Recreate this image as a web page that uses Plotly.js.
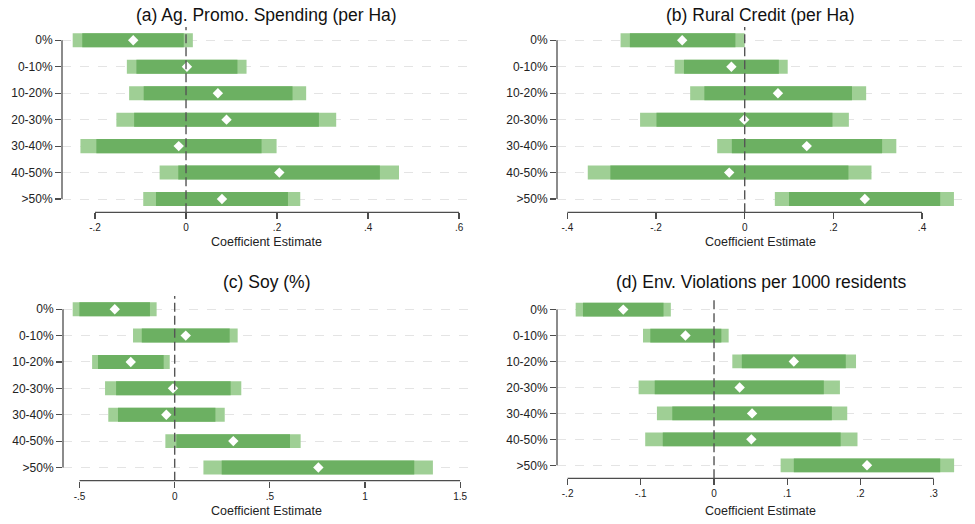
<!DOCTYPE html>
<html>
<head>
<meta charset="utf-8">
<script src="https://cdn.plot.ly/plotly-3.0.1.min.js"></script>
<style>
  html, body { margin: 0; padding: 0; background: #ffffff; }
  #chart { width: 975px; height: 524px; }
</style>
</head>
<body>
<div id="chart"></div>
<script>
// Share-of-area bins (rows of every panel)
const categories = ['0%', '0-10%', '10-20%', '20-30%', '30-40%', '40-50%', '>50%'];

// (a) Ag. Promo. Spending (per Ha)
const agEst  = [-0.116, 0.002, 0.070, 0.089, -0.016, 0.205, 0.079];
const agLo90 = [-0.228, -0.109, -0.093, -0.114, -0.197, -0.017, -0.066];
const agHi90 = [-0.005, 0.113, 0.234, 0.292, 0.166, 0.426, 0.224];
const agLo95 = [-0.249, -0.130, -0.125, -0.153, -0.232, -0.058, -0.094];
const agHi95 = [0.015, 0.133, 0.264, 0.330, 0.199, 0.468, 0.251];

// (b) Rural Credit (per Ha)
const crEst  = [-0.141, -0.030, 0.075, -0.001, 0.140, -0.035, 0.271];
const crLo90 = [-0.259, -0.137, -0.091, -0.199, -0.029, -0.303, 0.100];
const crHi90 = [-0.021, 0.077, 0.242, 0.198, 0.310, 0.234, 0.441];
const crLo95 = [-0.280, -0.158, -0.123, -0.236, -0.062, -0.354, 0.068];
const crHi95 = [0.000, 0.097, 0.274, 0.235, 0.342, 0.286, 0.472];

// (c) Soy (%)
const soyEst  = [-0.315, 0.058, -0.231, -0.009, -0.044, 0.308, 0.755];
const soyLo90 = [-0.501, -0.173, -0.403, -0.308, -0.298, 0.009, 0.247];
const soyHi90 = [-0.130, 0.289, -0.058, 0.294, 0.214, 0.606, 1.259];
const soyLo95 = [-0.536, -0.219, -0.434, -0.366, -0.349, -0.049, 0.151];
const soyHi95 = [-0.095, 0.331, -0.026, 0.350, 0.263, 0.662, 1.357];

// (d) Env. Violations per 1000 residents
const envEst  = [-0.124, -0.039, 0.109, 0.035, 0.052, 0.051, 0.209];
const envLo90 = [-0.179, -0.087, 0.038, -0.081, -0.057, -0.070, 0.109];
const envHi90 = [-0.069, 0.010, 0.180, 0.150, 0.161, 0.173, 0.309];
const envLo95 = [-0.189, -0.097, 0.025, -0.103, -0.078, -0.094, 0.091];
const envHi95 = [-0.059, 0.020, 0.194, 0.172, 0.182, 0.196, 0.328];

// Tick values and labels of each x axis
const agTicks  = [-0.2, 0, 0.2, 0.4, 0.6];
const agLabels = ['-.2', '0', '.2', '.4', '.6'];
const crTicks  = [-0.4, -0.2, 0, 0.2, 0.4];
const crLabels = ['-.4', '-.2', '0', '.2', '.4'];
const soyTicks  = [-0.5, 0, 0.5, 1, 1.5];
const soyLabels = ['-.5', '0', '.5', '1', '1.5'];
const envTicks  = [-0.2, -0.1, 0, 0.1, 0.2, 0.3];
const envLabels = ['-.2', '-.1', '0', '.1', '.2', '.3'];

const panelTitles = ['(a) Ag. Promo. Spending (per Ha)', '(b) Rural Credit (per Ha)',
                     '(c) Soy (%)', '(d) Env. Violations per 1000 residents'];
const xTitle = 'Coefficient Estimate';

const W = 975, H = 524;
const FONT = 'Liberation Sans, Arial, sans-serif';
const C95 = '#9fcf95';
const C90 = '#6cb062';
const AXIS = '#4d4d4d';

// Panel geometry in pixels: plot box left/right/top/bottom and x range
const panels = [
  { est: agEst, lo90: agLo90, hi90: agHi90, lo95: agLo95, hi95: agHi95,
    ticks: agTicks, labels: agLabels, range: [-0.2725, 0.624],
    box: [62, 470, 27, 212.3], titleY: 15, xTitleY: 242 },
  { est: crEst, lo90: crLo90, hi90: crHi90, lo95: crLo95, hi95: crHi95,
    ticks: crTicks, labels: crLabels, range: [-0.4234, 0.4947],
    box: [557, 964, 27, 212.3], titleY: 15, xTitleY: 242 },
  { est: soyEst, lo90: soyLo90, hi90: soyHi90, lo95: soyLo95, hi95: soyHi95,
    ticks: soyTicks, labels: soyLabels, range: [-0.587, 1.552],
    box: [63, 470, 296, 480.7], titleY: 282, xTitleY: 511 },
  { est: envEst, lo90: envLo90, hi90: envHi90, lo95: envLo95, hi95: envHi95,
    ticks: envTicks, labels: envLabels, range: [-0.2145, 0.3415],
    box: [557, 964, 296.6, 478.3], titleY: 282, xTitleY: 511 }
];

const traces = [];
const shapes = [];
const annotations = [];
const layout = {
  width: W, height: H,
  margin: { l: 0, r: 0, t: 0, b: 0 },
  paper_bgcolor: '#ffffff', plot_bgcolor: '#ffffff',
  showlegend: false,
  barmode: 'overlay',
  font: { family: FONT, color: '#222222' }
};

panels.forEach((p, i) => {
  const n = i === 0 ? '' : String(i + 1);
  const xa = 'x' + n, ya = 'y' + n;
  const [l, r, t, b] = p.box;

  // 95% interval (light) then 90% interval (dark) as horizontal bars
  traces.push({
    type: 'bar', orientation: 'h', xaxis: xa, yaxis: ya,
    y: categories, base: p.lo95, x: p.hi95.map((v, k) => v - p.lo95[k]),
    width: 0.53, marker: { color: C95, line: { width: 0 } }, hoverinfo: 'skip'
  });
  traces.push({
    type: 'bar', orientation: 'h', xaxis: xa, yaxis: ya,
    y: categories, base: p.lo90, x: p.hi90.map((v, k) => v - p.lo90[k]),
    width: 0.53, marker: { color: C90, line: { width: 0 } }, hoverinfo: 'skip'
  });
  // Point estimates
  traces.push({
    type: 'scatter', mode: 'markers', xaxis: xa, yaxis: ya,
    y: categories, x: p.est,
    marker: { symbol: 'diamond', size: 8, color: '#ffffff', line: { width: 0 } },
    cliponaxis: false
  });

  layout['xaxis' + n] = {
    domain: [l / W, r / W], anchor: ya, range: p.range,
    showgrid: false, zeroline: false, showline: false,
    tickmode: 'array', tickvals: p.ticks, ticktext: p.labels,
    ticks: 'outside', ticklen: 6, tickwidth: 1.2, tickcolor: AXIS,
    tickfont: { family: FONT, size: 10, color: '#222222' }
  };
  layout['yaxis' + n] = {
    domain: [1 - b / H, 1 - t / H], anchor: xa,
    type: 'category', categoryorder: 'array', categoryarray: categories,
    range: [6.5, -0.5],
    showgrid: true, gridcolor: '#e4e4e4', gridwidth: 1, griddash: 'dash',
    zeroline: false, showline: false,
    ticks: 'outside', ticklen: 6, tickwidth: 1.2, tickcolor: AXIS,
    tickfont: { family: FONT, size: 12, color: '#222222' }
  };

  // Axis lines span the labelled range only
  shapes.push({
    type: 'line', xref: xa, yref: ya + ' domain',
    x0: p.ticks[0], x1: p.ticks[p.ticks.length - 1], y0: 0, y1: 0,
    line: { color: AXIS, width: 1.3 }
  });
  shapes.push({
    type: 'line', xref: xa + ' domain', yref: ya,
    x0: 0, x1: 0, y0: categories[0], y1: categories[categories.length - 1],
    line: { color: AXIS, width: 1.3 }
  });
  // Reference line at zero
  shapes.push({
    type: 'line', xref: xa, yref: ya + ' domain',
    x0: 0, x1: 0, y0: 0, y1: 1, layer: 'above',
    line: { color: '#555555', width: 1.4, dash: '9px,4px' }
  });

  annotations.push({
    text: panelTitles[i], xref: 'paper', yref: 'paper',
    x: ((l + r) / 2) / W, y: 1 - p.titleY / H, xanchor: 'center', yanchor: 'middle',
    showarrow: false, font: { family: FONT, size: 17.5, color: '#111111' }
  });
  annotations.push({
    text: xTitle, xref: 'paper', yref: 'paper',
    x: ((l + r) / 2) / W, y: 1 - p.xTitleY / H, xanchor: 'center', yanchor: 'middle',
    showarrow: false, font: { family: FONT, size: 12.5, color: '#222222' }
  });
});

layout.shapes = shapes;
layout.annotations = annotations;

Plotly.newPlot('chart', traces, layout, { staticPlot: true, displayModeBar: false });
</script>
</body>
</html>
